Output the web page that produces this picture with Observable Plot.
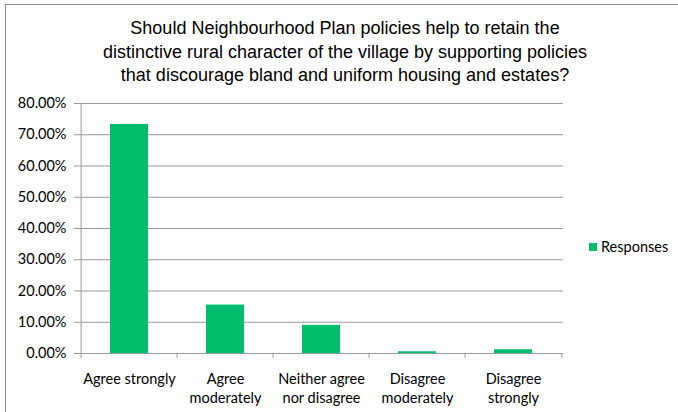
<!DOCTYPE html>
<html>
<head>
<meta charset="utf-8">
<script src="https://cdn.jsdelivr.net/npm/d3@7"></script>
<script src="https://cdn.jsdelivr.net/npm/@observablehq/plot@0.6"></script>
<style>
  html, body { margin: 0; padding: 0; background: #fff; }
  #wrap { position: relative; width: 678px; height: 412px; overflow: hidden; background: #fff; }
  #frame { position: absolute; left: 5px; top: 4px; width: 720px; height: 440px; border: 1px solid #8a8a8a; box-sizing: border-box; }
  #title { position: absolute; left: 0; width: 690px; top: 17px; text-align: center; font-family: "Liberation Sans", Arial, sans-serif; font-size: 18px; line-height: 23.5px; color: #000; white-space: nowrap; }
  #chart { position: absolute; left: 0; top: 0; }
  #legend { position: absolute; left: 589px; top: 238px; font-family: Lato, sans-serif; font-size: 14.5px; color: #000; display: flex; align-items: center; }
  #legend .sw { width: 8px; height: 8px; margin-right: 4px; }
</style>
</head>
<body>
<div id="wrap">
  <div id="frame"></div>
  <div id="chart"></div>
  <div id="title"></div>
  <div id="legend"></div>
</div>
<script>
const titleLines = [
  "Should Neighbourhood Plan policies help to retain the",
  "distinctive rural character of the village by supporting policies",
  "that discourage bland and uniform housing and estates?"
];
const categories = ["Agree strongly", "Agree moderately", "Neither agree nor disagree", "Disagree moderately", "Disagree strongly"];
const xLabels = ["Agree strongly", "Agree\nmoderately", "Neither agree\nnor disagree", "Disagree\nmoderately", "Disagree\nstrongly"];
const responses = [0.733, 0.155, 0.090, 0.0055, 0.012];
const yTicks = [0, 0.1, 0.2, 0.3, 0.4, 0.5, 0.6, 0.7, 0.8];
const seriesName = "Responses";
const barColor = "#00be6e";

const data = categories.map((c, i) => ({cat: c, value: responses[i]}));

const W = 678, H = 412, ML = 79, MR = 115, MT = 103, MB = 59;
const bw = (W - ML - MR) / categories.length;

const plot = Plot.plot({
  width: W, height: H,
  marginLeft: ML, marginRight: MR, marginTop: MT, marginBottom: MB,
  style: {fontFamily: "Lato, sans-serif", fontSize: "14.5px", color: "#000", background: "transparent", overflow: "visible"},
  x: {domain: categories, padding: 0, axis: null},
  y: {domain: [0, 0.8]},
  marks: [
    Plot.ruleY(yTicks, {stroke: "#999", strokeWidth: 1, insetLeft: -5}),
    Plot.ruleX([categories[0]], {x: d => d, dx: -bw / 2, y1: 0, y2: 0.8, stroke: "#999"}),
    Plot.ruleX(categories, {x: d => d, dx: -bw / 2, y1: 0, y2: 0, insetBottom: -5, stroke: "#999"}),
    Plot.ruleX([categories[categories.length - 1]], {x: d => d, dx: bw / 2, y1: 0, y2: 0, insetBottom: -5, stroke: "#999"}),
    Plot.barY(data, {x: "cat", y: "value", fill: barColor, insetLeft: 29, insetRight: 29}),
    Plot.axisY({ticks: yTicks, tickFormat: d3.format(".2%"), tickSize: 0, tickPadding: 13, fontSize: 14.5, label: null}),
    Plot.text(categories, {x: d => d, y: 0, text: (d, i) => xLabels[i], lineAnchor: "top", dy: 17, lineHeight: 1.32, fontSize: 14.5, fill: "#000"})
  ]
});
document.getElementById("chart").appendChild(plot);

const t = document.getElementById("title");
titleLines.forEach(l => { const d = document.createElement("div"); d.textContent = l; t.appendChild(d); });

const lg = document.getElementById("legend");
const sw = document.createElement("span"); sw.className = "sw"; sw.style.background = barColor;
const lt = document.createElement("span"); lt.textContent = seriesName;
lg.appendChild(sw); lg.appendChild(lt);
</script>
</body>
</html>
